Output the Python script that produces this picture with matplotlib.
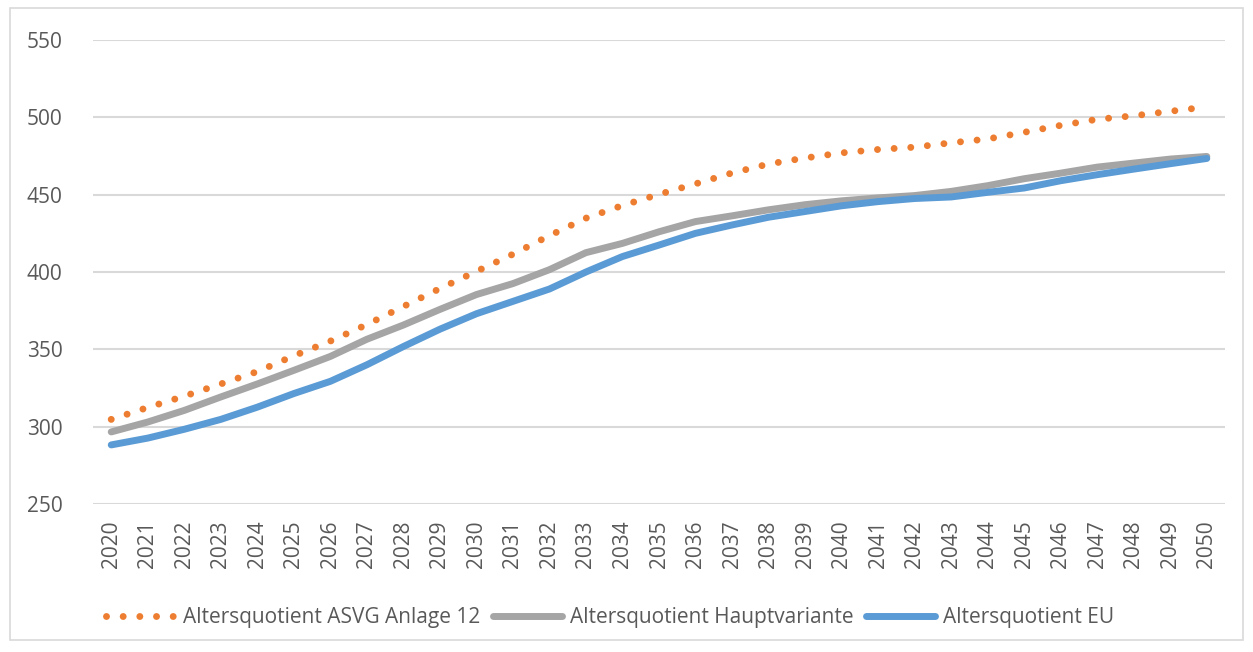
import matplotlib.pyplot as plt
from matplotlib.patches import Rectangle

years = list(range(2020, 2051))

asvg_anlage12 = [304.7, 312.4, 319.7, 327.6, 335.6, 345.8, 355.3, 366.0, 377.7, 389.3,
                 400.4, 411.5, 423.5, 434.8, 443.0, 450.2, 457.0, 464.0, 469.8, 473.7,
                 477.0, 479.2, 480.7, 483.5, 486.0, 490.3, 494.8, 498.7, 501.0, 503.9,
                 506.7]
hauptvariante = [296.6, 303.0, 310.5, 319.2, 327.6, 336.4, 345.4, 356.5, 365.7, 375.8,
                 385.4, 392.5, 401.5, 412.5, 418.5, 426.0, 432.6, 436.3, 440.2, 443.5,
                 446.0, 447.9, 449.4, 452.1, 455.8, 460.3, 463.9, 467.8, 470.4, 473.0,
                 474.7]
eu = [288.2, 292.6, 298.3, 304.7, 312.6, 321.4, 329.3, 340.0, 351.8, 363.0,
      373.0, 381.0, 389.0, 400.0, 410.0, 417.4, 425.0, 430.4, 435.4, 439.1,
      442.8, 445.5, 447.5, 448.5, 451.5, 454.3, 459.0, 462.9, 466.5, 470.0,
      473.4]

labels = ['Altersquotient ASVG Anlage 12', 'Altersquotient Hauptvariante',
          'Altersquotient EU']

plt.rcParams['font.family'] = ['Open Sans', 'DejaVu Sans']

fig = plt.figure(figsize=(12.53, 6.52), dpi=100)
ax = fig.add_axes([0.0742, 0.227, 0.9035, 0.7117])

# light frame around the chart area
fig.patches.append(Rectangle((0.008, 0.018), 0.984, 0.97, transform=fig.transFigure,
                             fill=False, edgecolor='#D9D9D9', linewidth=1.2))

x = range(len(years))
ax.plot(x, asvg_anlage12, color='#ED7D31', linewidth=5,
        linestyle=(0, (0.001, 2.4)), dash_capstyle='round', label=labels[0])
ax.plot(x, hauptvariante, color='#A5A5A5', linewidth=5, solid_capstyle='round',
        label=labels[1])
ax.plot(x, eu, color='#5B9BD5', linewidth=5, solid_capstyle='round', label=labels[2])

ax.set_xlim(-0.5, len(years) - 0.5)
ax.set_ylim(250, 550)
ax.set_yticks(range(250, 551, 50))
ax.set_xticks(list(x))
ax.set_xticklabels([str(y) for y in years], rotation=90)
ax.grid(axis='y', color='#D9D9D9', linewidth=1.5)
ax.set_axisbelow(True)
for s in ax.spines.values():
    s.set_visible(False)
ax.tick_params(length=0, colors='#595959', labelsize=15)
ax.tick_params(axis='x', pad=12)
ax.tick_params(axis='y', pad=22)

leg = fig.legend(loc='center', bbox_to_anchor=(0.487, 0.053), ncol=3, frameon=False,
                 fontsize=15, handlelength=3.3, handletextpad=0.4, columnspacing=0.6)
for t in leg.get_texts():
    t.set_color('#595959')

fig.savefig('out.png', dpi=100)
